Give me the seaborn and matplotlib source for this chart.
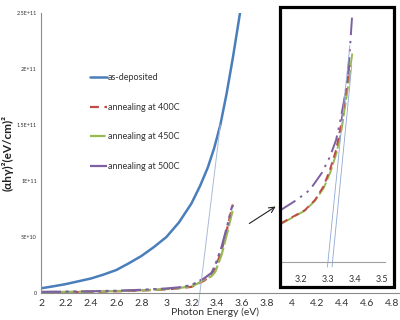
import numpy as np
import pandas as pd
import matplotlib
matplotlib.use("Agg")
import matplotlib.pyplot as plt
from matplotlib.patches import Rectangle
import seaborn as sns

# main chart data (photon energy in eV, (ahv)^2 values)
energy_dep = [2.0, 2.1, 2.2, 2.3, 2.4, 2.5, 2.6, 2.7, 2.8, 2.9, 3.0, 3.1, 3.2,
              3.27, 3.33, 3.38, 3.43, 3.48, 3.53, 3.587]
as_deposited = [4.2e9, 6.0e9, 8.0e9, 1.05e10, 1.3e10, 1.65e10, 2.05e10, 2.65e10, 3.3e10,
                4.1e10, 5.0e10, 6.3e10, 8.0e10, 9.6e10, 1.12e11, 1.29e11, 1.5e11,
                1.78e11, 2.1e11, 2.5e11]

energy_ann = [2.0, 2.2, 2.4, 2.6, 2.8, 3.0, 3.1, 3.2, 3.25, 3.3, 3.36, 3.39, 3.44, 3.49, 3.52, 3.53]
anneal_400 = [0.5e9, 0.8e9, 1.0e9, 1.5e9, 2.2e9, 3.2e9, 4.2e9, 5.5e9, 8.0e9, 1.1e10,
              1.6e10, 2.2e10, 3.8e10, 6.0e10, 7.5e10, 7.9e10]
anneal_450 = [0.8e9, 1.0e9, 1.2e9, 1.7e9, 2.4e9, 3.5e9, 4.5e9, 6.0e9, 8.5e9, 1.2e10,
              1.5e10, 1.9e10, 3.4e10, 5.6e10, 7.0e10, 7.4e10]
anneal_500 = [1.0e9, 1.2e9, 1.5e9, 2.0e9, 2.8e9, 4.0e9, 5.0e9, 7.0e9, 1.0e10, 1.3e10,
              1.8e10, 2.5e10, 4.1e10, 6.2e10, 7.6e10, 7.8e10]

labels = ["as-deposited", "annealing at 400C", "annealing at 450C", "annealing at 500C"]
colors = ["#4A7EBB", "#BE4B48", "#98B954", "#7D60A0"]

# main tangent line
tangent_x = [3.255, 3.43]
tangent_y = [-1.1e10, 1.5e11]

# inset (zoom of absorption edge), relative units
inset_e_500 = [3.125, 3.184, 3.233, 3.277, 3.307, 3.330, 3.344, 3.360, 3.373, 3.381, 3.390]
inset_500 = [0.206, 0.246, 0.286, 0.353, 0.417, 0.484, 0.552, 0.643, 0.734, 0.841, 0.988]
inset_e_400 = [3.125, 3.171, 3.215, 3.252, 3.283, 3.307, 3.330, 3.347, 3.360, 3.373, 3.379]
inset_400 = [0.153, 0.180, 0.206, 0.246, 0.299, 0.365, 0.444, 0.537, 0.630, 0.722, 0.782]
inset_e_450 = [3.125, 3.171, 3.215, 3.252, 3.285, 3.310, 3.333, 3.351, 3.364, 3.377, 3.385, 3.391]
inset_450 = [0.150, 0.178, 0.204, 0.243, 0.295, 0.360, 0.438, 0.530, 0.622, 0.715, 0.790, 0.835]
inset_tan1_x = [3.298, 3.381]
inset_tan1_y = [-0.02, 0.86]
inset_tan2_x = [3.315, 3.388]
inset_tan2_y = [-0.02, 0.78]
inset_ticks = [3.2, 3.3, 3.4, 3.5]

x_ticks = [2, 2.2, 2.4, 2.6, 2.8, 3, 3.2, 3.4, 3.6, 3.8, 4, 4.2, 4.4, 4.6, 4.8]
y_ticks = [0, 5e10, 1e11, 1.5e11, 2e11, 2.5e11]
y_ticklabels = ["0", "5E+10", "1E+11", "1.5E+11", "2E+11", "2.5E+11"]

sns.set_style("white")
plt.rcParams["font.family"] = ["Lato", "DejaVu Sans"]

fig = plt.figure(figsize=(4, 3.2), dpi=100)
ax = fig.add_axes([41/400, 1-293/320, 359/400, 280/320])

dashes = [None, (4, 2.5), (7, 1.5), (9, 2, 1.5, 2, 1.5, 2)]
df_dep = pd.DataFrame({"E": energy_dep, "v": as_deposited})
sns.lineplot(data=df_dep, x="E", y="v", ax=ax, color=colors[0], lw=1.8, label=labels[0])
for ys, lab, col, d in zip([anneal_400, anneal_450, anneal_500], labels[1:], colors[1:], dashes[1:]):
    df = pd.DataFrame({"E": energy_ann, "v": ys})
    line = sns.lineplot(data=df, x="E", y="v", ax=ax, color=col, lw=1.6, label=lab).lines[-1]
    line.set_dashes(d)

ax.plot(tangent_x, tangent_y, color="#A9BBD6", lw=0.7, clip_on=False)

ax.set_xlim(2, 2 + 359/125.4)
ax.set_ylim(0, 2.5e11)
ax.set_xticks(x_ticks)
ax.set_xticklabels([f"{t:g}" for t in x_ticks], fontsize=7.5, color="#333333")
ax.set_yticks(y_ticks)
ax.set_yticklabels(y_ticklabels, fontsize=4, color="#333333")
ax.tick_params(axis="x", length=0, pad=4.5)
ax.tick_params(axis="y", length=0, pad=3)
for s in ["top", "right"]:
    ax.spines[s].set_visible(False)
for s in ["left", "bottom"]:
    ax.spines[s].set_color("#8C8C8C")
    ax.spines[s].set_linewidth(0.8)

ax.set_xlabel("Photon Energy (eV)", fontsize=7.5, color="#333333")
ax.xaxis.set_label_coords(0.485, -0.053)
ax.set_ylabel("(αhγ)²(eV/cm)²", fontsize=8.5, fontweight="bold", color="#222222")
ax.yaxis.set_label_coords(-0.075, 0.5)

leg = ax.legend(loc="upper left", bbox_to_anchor=(0.113, 0.815), frameon=False,
                fontsize=6.5, handlelength=1.9, handletextpad=0.1, labelspacing=2.3)
for t in leg.get_texts():
    t.set_color("#333333")

# arrow pointing to the inset
ax.annotate("", xy=(278, 320-205), xytext=(247, 320-225), xycoords="figure pixels",
            textcoords="figure pixels",
            arrowprops=dict(arrowstyle="->", color="#222222", lw=0.8))

# inset box
fig.patches.append(Rectangle((280/400, 1-287/320), 114/400, 280/320, transform=fig.transFigure,
                             fill=False, edgecolor="black", lw=2.3))

ax2 = fig.add_axes([282/400, 1-262/320, 103/400, 252/320])
ax2.patch.set_alpha(0)
sns.lineplot(x=inset_e_450, y=inset_450, ax=ax2, color=colors[2], lw=1.4)
ax2.lines[-1].set_dashes((7, 1.5))
sns.lineplot(x=inset_e_400, y=inset_400, ax=ax2, color=colors[1], lw=1.4)
ax2.lines[-1].set_dashes((4, 2.5))
sns.lineplot(x=inset_e_500, y=inset_500, ax=ax2, color=colors[3], lw=1.4)
ax2.lines[-1].set_dashes((9, 3, 1.2, 3, 1.2, 3))
ax2.plot(inset_tan1_x, inset_tan1_y, color="#8FA8D2", lw=0.6, clip_on=False)
ax2.plot(inset_tan2_x, inset_tan2_y, color="#8FA8D2", lw=0.6, clip_on=False)
ax2.set_xlim(3.13, 3.511)
ax2.set_ylim(0, 1)
ax2.set_xticks(inset_ticks)
ax2.set_xticklabels([f"{t:g}" for t in inset_ticks], fontsize=6.5, color="#333333")
ax2.set_yticks([])
ax2.tick_params(axis="x", length=2, pad=7, color="#8C8C8C")
for s in ["top", "right", "left"]:
    ax2.spines[s].set_visible(False)
ax2.spines["bottom"].set_color("#A0A0A0")
ax2.spines["bottom"].set_linewidth(0.8)

fig.savefig("out.png", dpi=100)
